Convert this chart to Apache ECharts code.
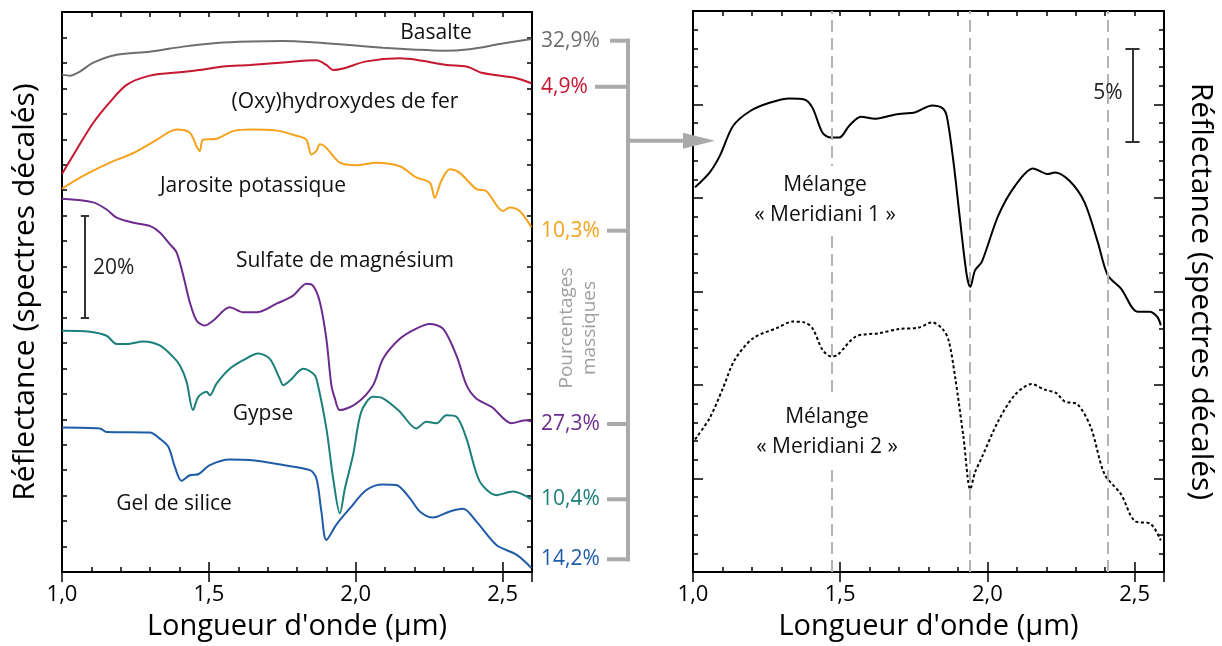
<!DOCTYPE html>
<html><head><meta charset="utf-8">
<script src="https://cdn.jsdelivr.net/npm/echarts@6/dist/echarts.min.js"></script>
<style>html,body{margin:0;padding:0;background:#fff}#c{width:1222px;height:646px}</style>
</head><body><div id="c"></div>
<script>
// ---- data: [wavelength (µm), offset reflectance (%)] ----
const basalte = [[1.00,97.7],[1.027,97.5],[1.061,98.3],[1.105,100.0],[1.186,101.6],[1.299,102.2],[1.412,103.2],[1.526,103.9],[1.639,104.2],[1.752,104.3],[1.866,104.0],[1.98,103.5],[2.092,103.0],[2.206,102.6],[2.296,102.4],[2.388,102.7],[2.49,103.7],[2.598,104.7]];
const oxyhydroxydes = [[1.00,78.2],[1.05,83.0],[1.106,88.2],[1.163,92.3],[1.22,95.7],[1.299,97.5],[1.39,98.1],[1.469,98.6],[1.549,99.3],[1.639,99.6],[1.753,100.1],[1.866,100.5],[1.90,99.6],[1.923,98.6],[1.957,98.9],[2.036,100.3],[2.15,100.9],[2.206,100.6],[2.309,99.6],[2.377,99.3],[2.433,98.0],[2.547,97.0],[2.598,96.0]];
const jarosite = [[1.00,75.3],[1.072,77.8],[1.163,80.4],[1.243,82.3],[1.322,84.9],[1.39,86.9],[1.435,86.3],[1.458,83.6],[1.469,82.7],[1.48,84.9],[1.526,85.1],[1.583,86.6],[1.639,86.9],[1.73,86.7],[1.798,85.7],[1.832,84.9],[1.849,82.0],[1.866,82.7],[1.878,84.0],[1.90,83.3],[1.946,80.4],[2.002,79.9],[2.07,80.4],[2.15,79.7],[2.206,77.5],[2.252,76.5],[2.269,73.5],[2.291,76.8],[2.32,79.1],[2.354,78.4],[2.411,75.2],[2.445,74.8],[2.501,70.9],[2.524,71.6],[2.558,70.9],[2.598,67.7]];
const sulfateMg = [[1.00,73.3],[1.106,72.6],[1.152,71.2],[1.186,69.6],[1.243,68.6],[1.299,68.0],[1.333,66.7],[1.367,64.4],[1.39,62.8],[1.413,58.2],[1.435,53.0],[1.458,49.4],[1.486,48.4],[1.515,49.4],[1.571,52.0],[1.617,51.0],[1.662,51.0],[1.73,52.7],[1.787,54.3],[1.832,56.6],[1.855,56.2],[1.878,53.0],[1.90,45.8],[1.917,36.7],[1.929,34.1],[1.946,31.8],[2.002,33.1],[2.059,36.7],[2.093,41.9],[2.15,45.8],[2.206,47.8],[2.252,48.7],[2.297,47.8],[2.343,42.5],[2.377,36.7],[2.41,34.1],[2.463,32.4],[2.531,29.2],[2.576,29.8],[2.598,29.6]];
const gypse = [[1.00,47.4],[1.095,47.2],[1.152,46.4],[1.186,44.8],[1.22,44.8],[1.277,45.3],[1.333,44.5],[1.379,42.2],[1.401,40.6],[1.424,37.4],[1.446,31.8],[1.464,34.4],[1.492,35.4],[1.503,34.7],[1.526,37.0],[1.571,39.9],[1.617,41.6],[1.668,42.9],[1.707,41.9],[1.741,38.0],[1.753,36.7],[1.776,37.6],[1.821,39.9],[1.855,39.0],[1.866,38.0],[1.90,28.2],[1.923,18.4],[1.946,11.5],[1.963,16.4],[1.991,23.0],[2.019,31.5],[2.059,34.4],[2.093,34.1],[2.15,31.5],[2.206,28.2],[2.24,29.5],[2.274,29.2],[2.309,30.8],[2.343,30.5],[2.377,26.2],[2.422,17.8],[2.479,15.1],[2.535,15.8],[2.598,14.3]];
const gelSilice = [[1.00,28.4],[1.129,28.2],[1.152,27.5],[1.299,27.4],[1.333,26.2],[1.362,24.6],[1.384,20.7],[1.407,17.9],[1.435,19.0],[1.464,19.2],[1.503,21.0],[1.571,22.1],[1.639,22.0],[1.753,21.0],[1.844,20.0],[1.866,18.4],[1.883,11.9],[1.90,6.3],[1.934,9.3],[1.98,12.5],[2.036,16.1],[2.093,17.2],[2.138,17.1],[2.184,14.5],[2.218,11.9],[2.263,10.7],[2.32,11.9],[2.365,12.4],[2.411,9.9],[2.479,5.3],[2.547,3.4],[2.598,0.8]];
const meridiani1 = [[1.007,20.57],[1.057,21.37],[1.091,22.25],[1.136,23.85],[1.193,24.64],[1.26,25.09],[1.328,25.32],[1.378,25.27],[1.406,24.82],[1.44,23.49],[1.469,23.23],[1.497,23.23],[1.53,23.85],[1.57,24.35],[1.621,24.24],[1.688,24.47],[1.756,24.59],[1.812,24.95],[1.846,24.82],[1.862,24.38],[1.885,21.9],[1.908,18.71],[1.93,15.87],[1.942,15.25],[1.958,16.13],[1.981,16.58],[2.037,19.06],[2.094,20.65],[2.155,21.58],[2.206,21.28],[2.229,21.37],[2.279,20.92],[2.33,19.77],[2.375,17.64],[2.409,15.87],[2.454,15.16],[2.51,13.92],[2.55,13.92],[2.577,13.65],[2.589,13.2]];
const meridiani2 = [[1.007,7.09],[1.057,8.24],[1.102,9.84],[1.142,11.35],[1.204,12.5],[1.283,13.03],[1.339,13.39],[1.378,13.35],[1.406,13.03],[1.44,11.88],[1.469,11.53],[1.491,11.61],[1.553,12.59],[1.632,12.77],[1.699,12.99],[1.767,13.07],[1.812,13.35],[1.846,13.03],[1.868,12.41],[1.891,10.37],[1.919,7.18],[1.942,4.43],[1.958,5.32],[1.981,6.12],[2.037,8.07],[2.094,9.48],[2.15,10.05],[2.195,9.75],[2.234,9.57],[2.262,9.13],[2.307,8.95],[2.352,7.71],[2.398,5.23],[2.454,4.16],[2.499,2.75],[2.555,2.57],[2.589,1.69]];
const absorptionBands = [1.468, 1.942, 2.41];
const spectrumNames = ['Basalte','(Oxy)hydroxydes de fer','Jarosite potassique','Sulfate de magnésium','Gypse','Gel de silice'];
const massPercents = ['32,9%','4,9%','10,3%','27,3%','10,4%','14,2%'];
const mixNames = ['Mélange\n« Meridiani 1 »','Mélange\n« Meridiani 2 »'];
const scaleLeft = {x:1.078, from:50, to:70, label:'20%'};
const scaleRight = {x:2.493, from:23, to:28, label:'5%'};
const xTickLabels = ['1,0','1,5','2,0','2,5'];

// ---- styling ----
const colors = ['#6e6e6e','#c5172f','#f5a21c','#6c2b8e','#1b7f7a','#1f5ca8'];
const FONT = "'Open Sans', 'Noto Sans', sans-serif";
const COND = "'Liberation Sans Narrow', 'Open Sans', sans-serif";

function fmtX(v){
  const i = Math.round(v*10);
  if (i % 5 !== 0) return '';
  const s = (i/10).toFixed(1).replace('.', ',');
  return xTickLabels.indexOf(s) >= 0 ? s : '';
}
function xAxes(g){
  const base = {gridIndex:g, type:'value', min:1.0, max:2.6, splitLine:{show:false}};
  const line = {onZero:false, lineStyle:{color:'#000', width:2}};
  const tk = (len)=>({inside:true, length:len, lineStyle:{color:'#000', width:1.5}});
  return [
    Object.assign({}, base, {position:'bottom', interval:0.1, axisLine:line, axisTick:tk(5),
      axisLabel:{formatter:fmtX, margin:12, color:'#000', fontSize:22, fontFamily:COND},
      name:"Longueur d'onde (µm)", nameLocation:'middle', nameGap:40,
      nameTextStyle:{fontSize:29, color:'#000', fontFamily:COND}}),
    Object.assign({}, base, {position:'bottom', interval:0.5, axisLine:{show:false}, axisTick:tk(10), axisLabel:{show:false}}),
    Object.assign({}, base, {position:'top', interval:0.1, axisLine:line, axisTick:tk(5), axisLabel:{show:false}}),
    Object.assign({}, base, {position:'top', interval:0.5, axisLine:{show:false}, axisTick:tk(10), axisLabel:{show:false}})
  ];
}
const tkY = (len)=>({inside:true, length:len, lineStyle:{color:'#000', width:1.5}});
const lineY = {onZero:false, lineStyle:{color:'#000', width:2}};
const yTitle = {fontSize:30, color:'#000', fontFamily:FONT};
const yAxes = [
  {gridIndex:0, type:'value', min:0, max:110, interval:5, position:'left', axisLine:lineY, axisTick:tkY(5), axisLabel:{show:false}, splitLine:{show:false},
   name:'Réflectance (spectres décalés)', nameLocation:'middle', nameGap:22, nameRotate:90, nameTextStyle:yTitle},
  {gridIndex:0, type:'value', min:0, max:110, interval:5, position:'right', axisLine:lineY, axisTick:tkY(5), axisLabel:{show:false}, splitLine:{show:false}},
  {gridIndex:1, type:'value', min:0, max:30, interval:1, position:'left', axisLine:lineY, axisTick:tkY(5), axisLabel:{show:false}, splitLine:{show:false}},
  {gridIndex:1, type:'value', min:0, max:30, interval:5, position:'left', axisLine:{show:false}, axisTick:tkY(10), axisLabel:{show:false}, splitLine:{show:false}},
  {gridIndex:1, type:'value', min:0, max:30, interval:1, position:'right', axisLine:lineY, axisTick:tkY(5), axisLabel:{show:false}, splitLine:{show:false},
   name:'Réflectance (spectres décalés)', nameLocation:'middle', nameGap:22, nameRotate:-90, nameTextStyle:yTitle},
  {gridIndex:1, type:'value', min:0, max:30, interval:5, position:'right', axisLine:{show:false}, axisTick:tkY(10), axisLabel:{show:false}, splitLine:{show:false}}
];

function scaleBar(sb, half){
  const st = {color:'#333', width:2, type:'solid'};
  return {silent:true, symbol:['none','none'], label:{show:false}, lineStyle:st, animation:false,
    data:[
      [{coord:[sb.x, sb.from]},{coord:[sb.x, sb.to]}],
      [{coord:[sb.x-half, sb.from]},{coord:[sb.x+half, sb.from]}],
      [{coord:[sb.x-half, sb.to]},{coord:[sb.x+half, sb.to]}]
    ]};
}

const leftData = [basalte, oxyhydroxydes, jarosite, sulfateMg, gypse, gelSilice];
const series = leftData.map((d,i)=>({
  name:spectrumNames[i], type:'line', xAxisIndex:0, yAxisIndex:0, data:d, showSymbol:false, smooth:0.3,
  lineStyle:{color:colors[i], width:2}, itemStyle:{color:colors[i]}, silent:true, z:3
}));
series[0].markLine = scaleBar(scaleLeft, 0.014);
series.push({name:'Meridiani 1', type:'line', xAxisIndex:4, yAxisIndex:2, data:meridiani1, showSymbol:false, smooth:0.3,
  lineStyle:{color:'#000', width:2}, silent:true, z:3,
  markLine:{silent:true, symbol:['none','none'], label:{show:false}, animation:false,
    lineStyle:{color:'#b4b4b4', width:2, type:[12,6]}, data:absorptionBands.map(b=>({xAxis:b}))}});
series.push({name:'Meridiani 2', type:'line', xAxisIndex:4, yAxisIndex:2, data:meridiani2, showSymbol:false, smooth:0.3,
  lineStyle:{color:'#000', width:2, type:[3,2.5]}, silent:true, z:3,
  markLine:scaleBar(scaleRight, 0.024)});

// ---- annotations ----
const G = '#aaaaaa';
const labelPos = [[436,33],[345,102],[253,186],[345,261],[263,414],[174,504]];
const pctY = [40.7, 86.7, 230.7, 424, 499.3, 559.3];
const connStart = [610, 595, 607, 607, 607, 607];
const graphic = [];
spectrumNames.forEach((n,i)=>graphic.push({type:'text', x:labelPos[i][0], y:labelPos[i][1], z:100,
  style:{text:n, fill:'#111', font:'21px '+FONT, align:'center', verticalAlign:'middle'}}));
massPercents.forEach((p,i)=>{
  graphic.push({type:'text', x:541, y:pctY[i], z:100, style:{text:p, fill:colors[i], font:'21px '+FONT, align:'left', verticalAlign:'middle'}});
  graphic.push({type:'line', z:100, shape:{x1:connStart[i], y1:pctY[i], x2:630, y2:pctY[i]}, style:{stroke:G, lineWidth:4}});
});
graphic.push({type:'line', z:100, shape:{x1:628, y1:38.7, x2:628, y2:561.3}, style:{stroke:G, lineWidth:4}});
graphic.push({type:'line', z:100, shape:{x1:628, y1:140.7, x2:685, y2:140.7}, style:{stroke:G, lineWidth:4}});
graphic.push({type:'polygon', z:100, shape:{points:[[683,132.7],[715,140.7],[683,148.7]]}, style:{fill:G}});
graphic.push({type:'text', x:578, y:328, rotation:Math.PI/2, z:100,
  style:{text:'Pourcentages\nmassiques', fill:'#a0a0a0', font:'19px '+FONT, align:'center', verticalAlign:'middle', lineHeight:23}});
graphic.push({type:'text', x:93, y:268, z:100, style:{text:scaleLeft.label, fill:'#222', font:'21px '+FONT, align:'left', verticalAlign:'middle'}});
graphic.push({type:'text', x:1108, y:93, z:100, style:{text:scaleRight.label, fill:'#222', font:'21px '+FONT, align:'center', verticalAlign:'middle'}});
[[825,200],[827,432]].forEach((p,i)=>graphic.push({type:'text', x:p[0], y:p[1], z:100,
  style:{text:mixNames[i], fill:'#111', font:'21px '+FONT, align:'center', verticalAlign:'middle', lineHeight:30,
         backgroundColor:'#fff', padding:[4,2]}}));

const chart = echarts.init(document.getElementById('c'), null, {renderer:'canvas'});
chart.setOption({
  animation:false,
  backgroundColor:'#fff',
  grid:[{left:62, top:12, width:470, height:562}, {left:693, top:11, width:471, height:564}],
  xAxis:[].concat(xAxes(0), xAxes(1)),
  yAxis:yAxes,
  series:series,
  graphic:graphic
});
</script></body></html>
